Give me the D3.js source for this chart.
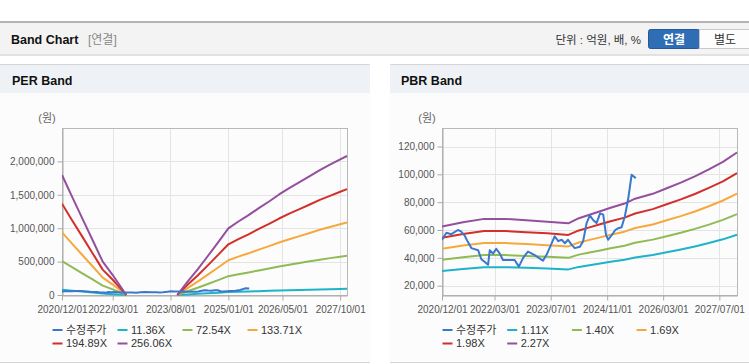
<!DOCTYPE html>
<html>
<head>
<meta charset="utf-8">
<title>Band Chart</title>
<script src="https://cdnjs.cloudflare.com/ajax/libs/d3/7.8.5/d3.min.js"></script>
<style>
  body { margin: 0; background: #fff; }
  svg { display: block; font-family: "Liberation Sans", Arial, "Noto Sans CJK KR", sans-serif; }
  .axis text { fill: #555; font-size: 10px; }
  .axis path, .axis line { stroke: #aaa; }
</style>
</head>
<body>
<div id="chart"></div>
<script>
// ---- data ----
// 수정주가 (same stock price on both charts)
const priceDates = ["2020-12-01","2021-01-08","2021-02-20","2021-04-18","2021-05-15","2021-06-15","2021-07-13",
  "2021-08-12","2021-10-10","2021-11-07","2021-12-07","2022-01-04","2022-01-19","2022-02-16","2022-03-16",
  "2022-04-16","2022-05-13","2022-08-22","2022-09-28","2022-11-04","2022-12-16","2023-02-12","2023-03-28",
  "2023-04-25","2023-05-25","2023-07-07","2023-08-04","2023-09-04","2023-10-04","2023-11-01","2023-11-28",
  "2023-12-28","2024-01-25","2024-03-10","2024-04-07","2024-05-07","2024-06-04","2024-07-04","2024-08-01",
  "2024-09-01","2024-09-28","2024-10-22","2024-11-10","2024-12-25","2025-01-10","2025-02-06","2025-03-06",
  "2025-04-03","2025-05-01","2025-06-01","2025-07-07"];
const priceValues = [53000,58000,57000,60000,59000,56000,51500,
  47000,45500,39000,37000,35000,45500,43000,46500,
  43000,38500,38500,33700,40000,44500,42000,39500,
  38000,42000,50000,55500,52000,53000,50500,53000,
  49500,47000,48000,52000,65000,70500,67000,65000,
  72000,71000,56500,53000,58000,60000,61300,62000,
  69700,81700,99700,97300];

// PER band (null = negative EPS, band not drawn)
const perDates = ["2020-12-01","2021-03-01","2021-06-01","2021-09-01","2021-12-01","2022-03-01","2022-05-01","2022-07-01",
  "2023-01-01",
  "2023-10-01","2024-01-01","2024-04-01","2024-07-01","2024-10-01","2025-01-01","2025-04-01","2025-07-01","2025-10-01",
  "2026-01-01","2026-04-01","2026-07-01","2026-10-01","2027-01-01","2027-04-01","2027-07-01","2027-10-01","2027-12-01"];
const per1136 = [80000,65000,51000,37000,22000,13000,7000,0, null,
  0,9000,17000,26000,35000,44000,49000,53000,58000,62000,67000,71000,75000,79000,83000,87000,90000,92000];
const per7254 = [508000,417000,325000,233000,141000,85000,42000,0, null,
  0,57000,109000,165000,223000,282000,311000,338000,368000,396000,426000,453000,478000,504000,529000,552000,574000,589000];
const per13371 = [938000,768000,599000,430000,260000,156000,78000,0, null,
  0,104000,201000,305000,412000,521000,574000,624000,679000,731000,786000,835000,882000,929000,976000,1018000,1060000,1086000];
const per19489 = [1367000,1120000,874000,626000,380000,228000,114000,0, null,
  0,152000,293000,444000,600000,759000,837000,909000,989000,1065000,1145000,1218000,1286000,1355000,1423000,1484000,1545000,1584000];
const per25606 = [1796000,1472000,1148000,823000,499000,299000,150000,0, null,
  0,200000,385000,584000,789000,998000,1100000,1195000,1300000,1400000,1505000,1600000,1690000,1780000,1870000,1950000,2030000,2081000];
const perNames = ["11.36X","72.54X","133.71X","194.89X","256.06X"];
const perXTicks = ["2020-12-01","2022-03-01","2023-08-01","2025-01-01","2026-05-01","2027-10-01"];
const perYTicks = [0,500000,1000000,1500000,2000000];

// PBR band
const pbrDates = ["2020-12-01","2021-06-01","2021-12-01","2022-06-01","2022-12-01","2023-06-01","2023-12-01",
  "2024-03-01","2024-06-01","2024-09-01","2024-12-01","2025-04-01","2025-07-01","2025-12-01","2026-04-01",
  "2026-08-01","2026-12-01","2027-04-01","2027-08-01","2027-12-01"];
const pbr111 = [30600,32000,33300,33300,32800,32300,31700,33500,34700,35900,37200,38600,40300,42100,44000,46000,48200,50600,53300,56600];
const pbr140 = [38600,40400,42000,42000,41300,40700,40000,42300,43800,45300,46900,48700,50900,53100,55500,58000,60800,63900,67300,71400];
const pbr169 = [46500,48800,50600,50600,49900,49100,48200,51000,52900,54700,56600,58800,61400,64000,67000,70000,73300,77100,81200,86100];
const pbr198 = [54500,57100,59300,59300,58400,57600,56500,59700,61900,64100,66300,68900,71900,75000,78500,82000,85900,90300,95000,100900];
const pbr227 = [62500,65500,68000,68000,67000,66000,64800,68500,71000,73500,76000,79000,82500,86000,90000,94000,98500,103500,109000,115700];
const pbrNames = ["1.11X","1.40X","1.69X","1.98X","2.27X"];
const pbrXTicks = ["2020-12-01","2022-03-01","2023-07-01","2024-11-01","2026-03-01","2027-07-01"];
const pbrYTicks = [20000,40000,60000,80000,100000,120000];

const priceName = "수정주가";
const bandColors = ["#1db3c8", "#8fbb55", "#f5a93c", "#d22f2b", "#944f9e"];
const priceColor = "#3a78cc";

// ---- drawing ----
const W = 749, H = 364;
const parse = d3.timeParse("%Y-%m-%d");
const fmt = d3.timeFormat("%Y/%m/%d");

const svg = d3.select("#chart").append("svg")
    .attr("width", W).attr("height", H);

// top header bar
svg.append("rect").attr("x", 0).attr("y", 23).attr("width", W).attr("height", 31).attr("fill", "#f3f3f3");
svg.append("rect").attr("x", 0).attr("y", 21).attr("width", W).attr("height", 2).attr("fill", "#b4b4b4");
svg.append("rect").attr("x", 0).attr("y", 54).attr("width", W).attr("height", 2).attr("fill", "#e2e2e2");
svg.append("text").attr("x", 11).attr("y", 44).attr("font-size", "12.5px").attr("font-weight", "bold")
   .attr("fill", "#111").text("Band Chart");
svg.append("text").attr("x", 88).attr("y", 44).attr("font-size", "12px").attr("fill", "#888").text("[연결]");
svg.append("text").attr("x", 641).attr("y", 44).attr("font-size", "11.5px").attr("fill", "#333")
   .attr("text-anchor", "end").text("단위 : 억원, 배, %");
svg.append("rect").attr("x", 648.5).attr("y", 29.5).attr("width", 51).attr("height", 19).attr("rx", 2)
   .attr("fill", "#2f6db4").attr("stroke", "#24589a");
svg.append("text").attr("x", 674).attr("y", 43.5).attr("font-size", "12px").attr("font-weight", "bold")
   .attr("fill", "#fff").attr("text-anchor", "middle").text("연결");
svg.append("rect").attr("x", 699.5).attr("y", 29.5).attr("width", 52).attr("height", 19)
   .attr("fill", "#fdfdfd").attr("stroke", "#c8c8c8");
svg.append("text").attr("x", 725).attr("y", 43.5).attr("font-size", "12px")
   .attr("fill", "#333").attr("text-anchor", "middle").text("별도");

function drawBand(o) {
    // panel
    let p = svg.append("g");
    p.append("rect").attr("x", o.panelX).attr("y", 64).attr("width", o.panelW).attr("height", 298)
     .attr("fill", "#fcfcfc");
    p.append("rect").attr("x", o.panelX).attr("y", 64).attr("width", o.panelW).attr("height", 29)
     .attr("fill", "#eef2f7");
    p.append("line").attr("x1", o.panelX).attr("x2", o.panelX + o.panelW).attr("y1", 64.5).attr("y2", 64.5)
     .attr("stroke", "#d6d6d6");
    p.append("line").attr("x1", o.panelX).attr("x2", o.panelX + o.panelW).attr("y1", 362.5).attr("y2", 362.5)
     .attr("stroke", "#d6d6d6");
    p.append("text").attr("x", o.panelX + o.titleDx).attr("y", 85).attr("font-size", "12.5px")
     .attr("font-weight", "bold").attr("fill", "#111").text(o.title);

    let x = d3.scaleTime().domain(o.xDomain.map(parse)).range([o.left, o.right]);
    let y = d3.scaleLinear().domain(o.yDomain).range([o.bottom, o.top]);

    // grid
    let g = p.append("g");
    g.selectAll(".vg").data(o.xTicks.map(parse)).enter().append("line")
     .attr("x1", d => Math.round(x(d)) + 0.5).attr("x2", d => Math.round(x(d)) + 0.5)
     .attr("y1", o.top).attr("y2", o.bottom).attr("stroke", "#e4e4e4");
    g.selectAll(".hg").data(o.yTicks).enter().append("line")
     .attr("x1", o.left).attr("x2", o.right)
     .attr("y1", d => Math.round(y(d)) + 0.5).attr("y2", d => Math.round(y(d)) + 0.5).attr("stroke", "#e4e4e4");
    p.append("rect").attr("x", o.left + 0.5).attr("y", o.top + 0.5)
     .attr("width", o.right - o.left).attr("height", o.bottom - o.top)
     .attr("fill", "none").attr("stroke", "#b8b8b8");

    // axes
    p.append("g").attr("class", "axis")
     .attr("transform", "translate(" + (o.left + 0.5) + ",0)")
     .call(d3.axisLeft(y).tickValues(o.yTicks).tickSize(5).tickSizeOuter(0).tickFormat(d3.format(",")));
    p.append("g").attr("class", "axis")
     .attr("transform", "translate(0," + (o.bottom + 0.5) + ")")
     .call(d3.axisBottom(x).tickValues(o.xTicks.map(parse)).tickSize(5).tickSizeOuter(0).tickFormat(fmt))
     .selectAll("text").attr("dy", "0.95em");

    p.append("text").attr("x", o.left - 15).attr("y", 122).attr("font-size", "11px")
     .attr("fill", "#666").attr("text-anchor", "middle").text("(원)");

    // lines
    let line = d3.line()
        .defined(d => d[1] !== null)
        .x(d => x(d[0]))
        .y(d => y(d[1]));

    let clip = "clip" + o.title.replace(/\s/g, "");
    p.append("clipPath").attr("id", clip).append("rect")
     .attr("x", o.left).attr("y", o.top - 2).attr("width", o.right - o.left + 2).attr("height", o.bottom - o.top + 3);

    let series = o.bands.map((vals, i) => ({
        name: o.names[i], color: bandColors[i],
        pts: o.bandDates.map((d, j) => [parse(d), vals[j]])
    }));
    let price = { name: priceName, color: priceColor,
        pts: priceDates.map((d, j) => [parse(d), priceValues[j]]) };

    let lg = p.append("g").attr("clip-path", "url(#" + clip + ")");
    series.forEach(s => {
        lg.append("path").datum(s.pts).attr("d", line)
          .attr("fill", "none").attr("stroke", s.color).attr("stroke-width", 2)
          .attr("stroke-linejoin", "round");
    });
    lg.append("path").datum(price.pts).attr("d", line)
      .attr("fill", "none").attr("stroke", price.color).attr("stroke-width", 2)
      .attr("stroke-linejoin", "round");

    // legend
    let items = [price].concat(series);
    items.forEach((s, i) => {
        let col = i % 4, row = Math.floor(i / 4);
        let lx = o.legendX + col * o.legendStep;
        let ly = 330 + row * 13.5;
        p.append("line").attr("x1", lx).attr("x2", lx + 10).attr("y1", ly).attr("y2", ly)
         .attr("stroke", s.color).attr("stroke-width", 2);
        p.append("text").attr("x", lx + 13.5).attr("y", ly).attr("dy", "0.36em")
         .attr("font-size", "11px").attr("fill", "#333").text(s.name);
    });
}

drawBand({
    title: "PER Band", panelX: 0, panelW: 370, titleDx: 12,
    left: 62, right: 347, top: 128, bottom: 295,
    xDomain: ["2020-12-01", "2027-12-01"], yDomain: [0, 2500000],
    xTicks: perXTicks, yTicks: perYTicks,
    bandDates: perDates, bands: [per1136, per7254, per13371, per19489, per25606], names: perNames,
    legendX: 52.5, legendStep: 65
});

drawBand({
    title: "PBR Band", panelX: 390, panelW: 359, titleDx: 11,
    left: 442, right: 737, top: 128, bottom: 295,
    xDomain: ["2020-12-01", "2027-12-01"], yDomain: [13300, 133300],
    xTicks: pbrXTicks, yTicks: pbrYTicks,
    bandDates: pbrDates, bands: [pbr111, pbr140, pbr169, pbr198, pbr227], names: pbrNames,
    legendX: 442.5, legendStep: 64.7
});
</script>
</body>
</html>
